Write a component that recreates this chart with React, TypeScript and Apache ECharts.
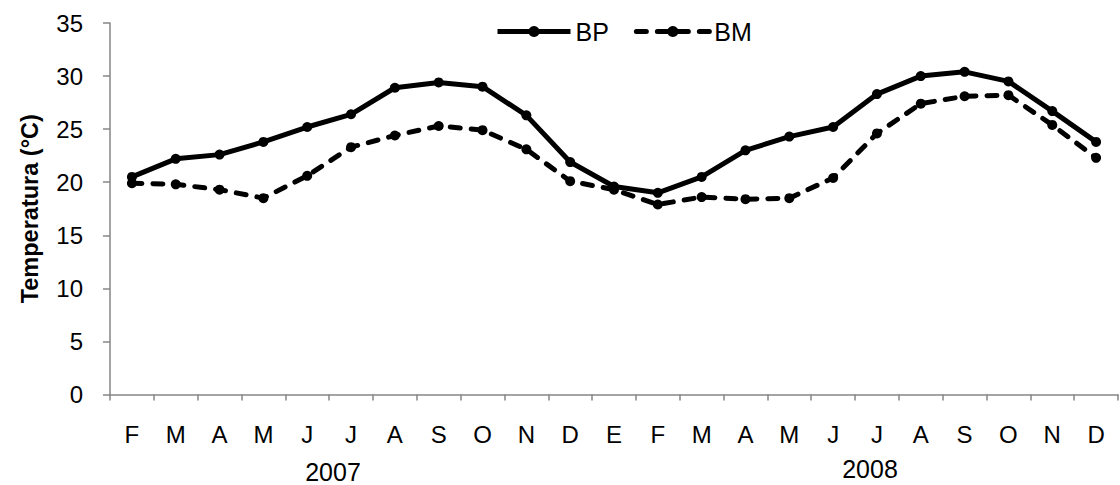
import React, { useEffect, useRef } from "react";
import * as echarts from "echarts";

const months = ["F", "M", "A", "M", "J", "J", "A", "S", "O", "N", "D", "E", "F", "M", "A", "M", "J", "J", "A", "S", "O", "N", "D"];
const bpValues = [20.5, 22.2, 22.6, 23.8, 25.2, 26.4, 28.9, 29.4, 29.0, 26.3, 21.9, 19.6, 19.0, 20.5, 23.0, 24.3, 25.2, 28.3, 30.0, 30.4, 29.5, 26.7, 23.8];
const bmValues = [19.9, 19.8, 19.3, 18.5, 20.6, 23.3, 24.4, 25.3, 24.9, 23.1, 20.1, 19.3, 17.9, 18.6, 18.4, 18.5, 20.4, 24.6, 27.4, 28.1, 28.2, 25.4, 22.3];
const yearLabels = ["2007", "2008"];
const yTicks = { min: 0, max: 35, interval: 5 };

export default function App() {
  const ref = useRef<HTMLDivElement>(null);
  useEffect(() => {
    document.body.style.margin = "0";
    const chart = echarts.init(ref.current!, null, { renderer: "svg" });
    const font = "Liberation Sans, Arial, sans-serif";
    chart.setOption({
      animation: false,
      backgroundColor: "#ffffff",
      textStyle: { fontFamily: font },
      grid: { left: 110, right: 2, top: 23, bottom: 90.5, containLabel: false },
      legend: {
        left: 490,
        top: 14,
        itemWidth: 73,
        itemHeight: 14,
        itemGap: 25,
        lineStyle: { width: 5 },
        textStyle: { fontSize: 25, color: "#000", fontFamily: font },
        data: ["BP", "BM"],
      },
      xAxis: {
        type: "category",
        data: months,
        boundaryGap: true,
        axisLine: { lineStyle: { color: "#868686", width: 1.5 } },
        axisTick: { show: true, alignWithLabel: false, length: 6, lineStyle: { color: "#868686", width: 1.5 } },
        axisLabel: { fontSize: 24, color: "#000", margin: 28, fontFamily: font, interval: 0 },
      },
      yAxis: {
        type: "value",
        min: yTicks.min,
        max: yTicks.max,
        interval: yTicks.interval,
        splitLine: { show: false },
        axisLine: { show: true, lineStyle: { color: "#868686", width: 1.5 } },
        axisTick: { show: true, length: 7, lineStyle: { color: "#868686", width: 1.5 } },
        axisLabel: { fontSize: 24, color: "#000", margin: 27, fontFamily: font },
        name: "Temperatura (°C)",
        nameLocation: "middle",
        nameRotate: 90,
        nameGap: 68,
        nameTextStyle: { fontSize: 23.5, fontWeight: "bold", color: "#000", fontFamily: font },
      },
      series: [
        {
          name: "BP",
          type: "line",
          data: bpValues,
          symbol: "circle",
          symbolSize: 10,
          itemStyle: { color: "#000" },
          lineStyle: { color: "#000", width: 5 },
        },
        {
          name: "BM",
          type: "line",
          data: bmValues,
          symbol: "circle",
          symbolSize: 10,
          itemStyle: { color: "#000" },
          lineStyle: { color: "#000", width: 5, type: [10, 11], cap: "round" },
        },
      ],
      graphic: [
        { type: "text", x: 333, y: 472, style: { text: yearLabels[0], fill: "#000", font: `25px ${font}`, textAlign: "center", textVerticalAlign: "middle" } },
        { type: "text", x: 870, y: 469, style: { text: yearLabels[1], fill: "#000", font: `25px ${font}`, textAlign: "center", textVerticalAlign: "middle" } },
      ],
    });
    return () => chart.dispose();
  }, []);
  return <div ref={ref} style={{ width: 1120, height: 485 }} />;
}
